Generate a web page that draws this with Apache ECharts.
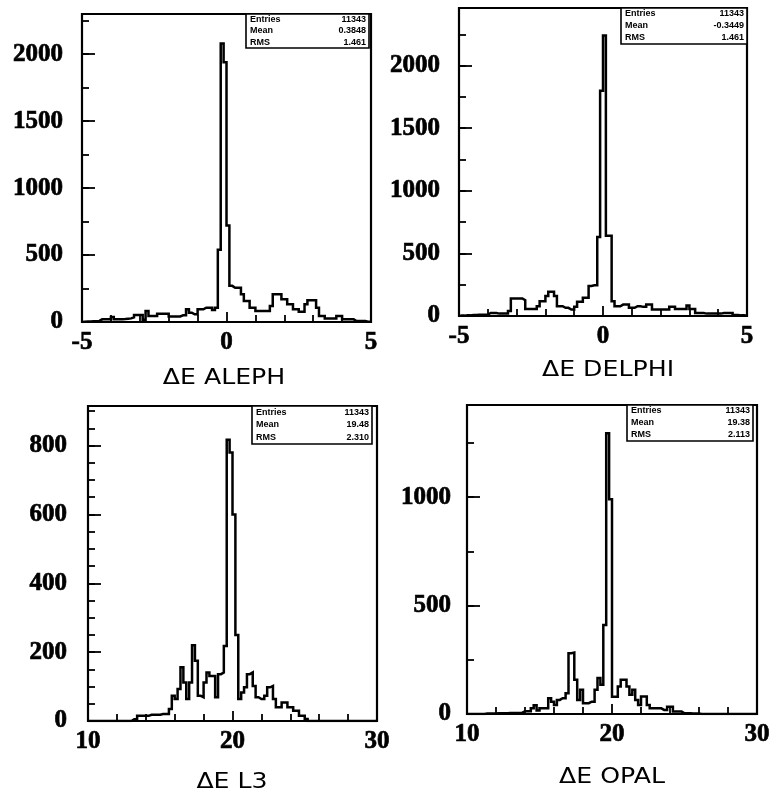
<!DOCTYPE html>
<html><head><meta charset="utf-8">
<script src="https://cdn.jsdelivr.net/npm/echarts@6/dist/echarts.min.js"></script>
<style>html,body{margin:0;padding:0;background:#fff}#c{width:771px;height:794px}</style>
</head><body><div id="c"></div>
<script>
// ---- data: bin counts (100 bins each) ----
const alephCounts = [
  2, 3, 3, 5, 5, 8, 20, 20, 20, 20,
  37, 20, 20, 20, 22, 25, 27, 35, 52, 52,
  52, 17, 82, 45, 45, 45, 62, 62, 62, 62,
  42, 42, 42, 42, 50, 50, 95, 70, 57, 57,
  95, 95, 107, 107, 107, 90, 107, 540, 2080, 1940,
  720, 270, 256, 256, 256, 207, 157, 157, 107, 107,
  82, 82, 82, 82, 82, 120, 207, 207, 207, 170,
  170, 132, 132, 95, 95, 77, 77, 132, 162, 162,
  162, 107, 45, 45, 27, 27, 27, 27, 45, 45,
  20, 20, 20, 20, 7, 7, 7, 7, 2, 2
];
const delphiCounts = [
  3, 3, 5, 5, 8, 8, 10, 10, 10, 10,
  24, 24, 24, 19, 19, 19, 19, 40, 140, 140,
  140, 140, 126, 56, 56, 56, 56, 78, 118, 118,
  160, 194, 194, 159, 78, 78, 65, 65, 51, 51,
  73, 113, 113, 145, 145, 240, 245, 245, 630, 1800,
  2240, 640, 640, 118, 78, 78, 91, 91, 91, 65,
  65, 78, 78, 73, 73, 91, 91, 51, 51, 51,
  51, 51, 51, 73, 73, 56, 56, 56, 56, 83,
  56, 56, 24, 24, 24, 19, 19, 19, 19, 19,
  19, 24, 24, 24, 24, 8, 8, 5, 5, 3
];
const l3Counts = [
  0, 0, 0, 0, 0, 0, 0, 0, 0, 0,
  0, 0, 0, 0, 0, 5, 5, 15, 15, 15,
  15, 18, 18, 18, 18, 20, 20, 20, 35, 73,
  64, 93, 156, 112, 64, 112, 220, 175, 73, 69,
  112, 141, 131, 131, 69, 136, 141, 218, 817, 780,
  600, 250, 64, 83, 98, 136, 141, 102, 69, 64,
  64, 73, 98, 102, 64, 40, 40, 54, 54, 40,
  40, 30, 30, 15, 15, 6, 0, 0, 0, 0,
  0, 0, 0, 0, 0, 0, 0, 0, 0, 0,
  0, 0, 0, 0, 0, 0, 0, 0, 0, 0
];
const opalCounts = [
  0, 0, 0, 0, 0, 0, 2, 2, 2, 2,
  3, 3, 3, 3, 5, 5, 5, 5, 5, 13,
  13, 13, 26, 40, 16, 26, 26, 26, 73, 57,
  42, 65, 73, 73, 96, 280, 283, 158, 65, 112,
  50, 50, 57, 57, 112, 166, 135, 410, 1295, 990,
  80, 80, 127, 158, 158, 127, 89, 112, 65, 42,
  81, 81, 42, 26, 26, 26, 26, 19, 19, 34,
  34, 11, 11, 11, 3, 3, 3, 2, 2, 2,
  0, 0, 0, 0, 0, 0, 0, 0, 0, 0,
  0, 0, 0, 0, 0, 0, 0, 0, 0, 0
];
const statLabels = ['Entries', 'Mean', 'RMS'];
const alephStats = ['11343', '0.3848', '1.461'];
const delphiStats = ['11343', '-0.3449', '1.461'];
const l3Stats = ['11343', '19.48', '2.310'];
const opalStats = ['11343', '19.38', '2.113'];
const titles = ['\u0394E ALEPH', '\u0394E DELPHI', '\u0394E L3', '\u0394E OPAL'];
const xRanges = [[-5, 5], [-5, 5], [10, 30], [10, 30]];
const yMaxes = [2300, 2460, 915, 1425];
const yMajor = [500, 500, 200, 500];
const yMinor = [250, 250, 50, 250];
const xMajor = [5, 5, 10, 10];

// ---- layout ----
const layout = [
  {grid: {left: 82, top: 14, width: 289, height: 308}, box: [246, 14, 123, 34], title: [224, 379], yMargin: 19},
  {grid: {left: 459, top: 8, width: 288, height: 308}, box: [621, 8, 126, 36], title: [608, 371], yMargin: 19},
  {grid: {left: 88, top: 406, width: 289, height: 315}, box: [252, 406, 120, 38], title: [232, 783], yMargin: 21},
  {grid: {left: 467, top: 405, width: 290, height: 309}, box: [627, 405, 126, 36], title: [612, 778], yMargin: 16}
];
const countsList = [alephCounts, delphiCounts, l3Counts, opalCounts];
const statsList = [alephStats, delphiStats, l3Stats, opalStats];

const labelFont = {color: '#000', fontFamily: 'Liberation Serif', fontWeight: 'bold', fontSize: 25,
  textBorderColor: '#000', textBorderWidth: 0.7, formatter: v => String(v)};
const tickStyle = {color: '#000', width: 1.8};

const grids = [], xAxes = [], yAxes = [], series = [], graphics = [];
layout.forEach((L, i) => {
  grids.push(Object.assign({show: true, borderColor: '#000', borderWidth: 2.2, backgroundColor: '#fff', containLabel: false, outerBoundsMode: 'none'}, L.grid));
  const [lo, hi] = xRanges[i];
  xAxes.push({
    type: 'value', gridIndex: i, min: lo, max: hi, interval: xMajor[i],
    axisLine: {show: false, onZero: false}, splitLine: {show: false},
    axisTick: {show: true, inside: true, length: 10, lineStyle: tickStyle},
    minorTick: {show: true, splitNumber: 5, length: 7, lineStyle: tickStyle},
    axisLabel: Object.assign({margin: 8, hideOverlap: false}, labelFont)
  });
  yAxes.push({
    type: 'value', gridIndex: i, position: 'left', min: 0, max: yMaxes[i], interval: yMajor[i],
    axisLine: {show: false, onZero: false}, splitLine: {show: false},
    axisTick: {show: true, inside: true, length: 13, lineStyle: tickStyle},
    axisLabel: Object.assign({margin: L.yMargin, showMaxLabel: false, hideOverlap: false}, labelFont)
  });
  yAxes.push({
    type: 'value', gridIndex: i, position: 'left', offset: 0, min: 0, max: yMaxes[i], interval: yMinor[i],
    axisLine: {show: false, onZero: false}, splitLine: {show: false},
    axisTick: {show: true, inside: true, length: 7, lineStyle: tickStyle},
    axisLabel: {show: false}
  });
  const c = countsList[i];
  const w = (hi - lo) / c.length;
  const pts = [[lo, 0]];
  c.forEach((v, k) => pts.push([lo + k * w, v]));
  pts.push([hi, c[c.length - 1]]);
  pts.push([hi, 0]);
  series.push({
    type: 'line', xAxisIndex: i, yAxisIndex: 2 * i, data: pts, step: 'end',
    symbol: 'none', lineStyle: {color: '#000', width: 2.5, join: 'miter'}, clip: true, z: 3
  });
  const [bx, by, bw, bh] = L.box;
  graphics.push({type: 'rect', shape: {x: bx, y: by, width: bw, height: bh}, style: {fill: '#fff', stroke: '#000', lineWidth: 1.6}, z: 10});
  statLabels.forEach((lab, r) => {
    const ty = by + bh * (r + 0.5) / 3;
    graphics.push({type: 'text', x: bx + 4, y: ty, style: {text: lab, fill: '#000', font: 'bold 9px "Liberation Sans"', textAlign: 'left', textVerticalAlign: 'middle'}, z: 11});
    graphics.push({type: 'text', x: bx + bw - 3, y: ty, style: {text: statsList[i][r], fill: '#000', font: 'bold 9px "Liberation Sans"', textAlign: 'right', textVerticalAlign: 'middle'}, z: 11});
  });
  graphics.push({type: 'text', x: L.title[0], y: L.title[1], scaleX: 1.2, style: {text: titles[i], fill: '#000', font: '21px "DejaVu Sans"', textAlign: 'center', textVerticalAlign: 'middle'}, z: 11});
});

const chart = echarts.init(document.getElementById('c'), null, {renderer: 'canvas'});
chart.setOption({
  animation: false,
  backgroundColor: '#fff',
  grid: grids, xAxis: xAxes, yAxis: yAxes, series: series, graphic: graphics
});
</script></body></html>
